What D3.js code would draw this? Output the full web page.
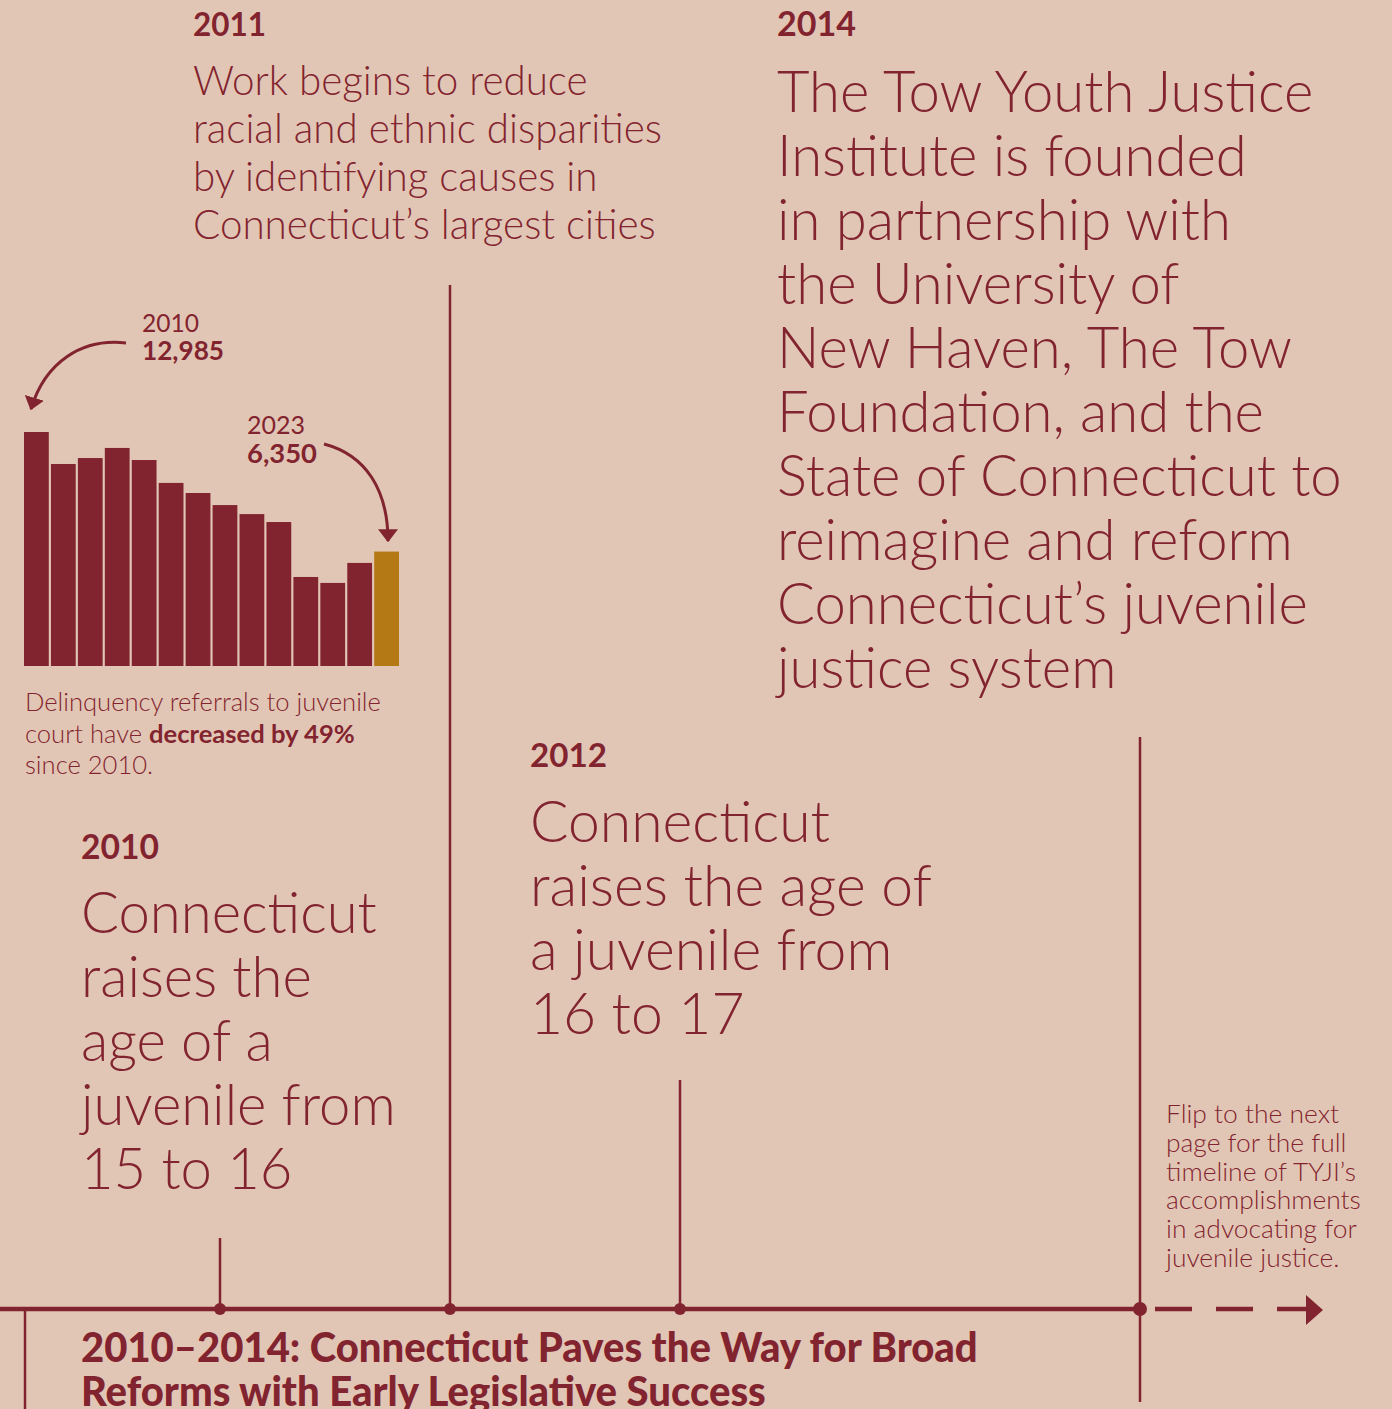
<!DOCTYPE html>
<html>
<head>
<meta charset="utf-8">
<script src="https://cdn.jsdelivr.net/npm/d3@7"></script>
<style>
  html, body { margin: 0; padding: 0; background: #e2c6b5; }
  svg { display: block; }
</style>
</head>
<body>
<script>
// referrals to juvenile court, 2010-2023
var years = [2010, 2011, 2012, 2013, 2014, 2015, 2016, 2017, 2018, 2019, 2020, 2021, 2022, 2023];
var referrals = [12985, 11210, 11540, 12100, 11430, 10160, 9600, 8930, 8430, 7990, 4940, 4610, 5720, 6350];

// timeline events
var eventYears = [2010, 2011, 2012, 2014];
var eventTexts = [
  ["Connecticut", "raises the", "age of a", "juvenile from", "15 to 16"],
  ["Work begins to reduce", "racial and ethnic disparities", "by identifying causes in", "Connecticut\u2019s largest cities"],
  ["Connecticut", "raises the age of", "a juvenile from", "16 to 17"],
  ["The Tow Youth Justice", "Institute is founded", "in partnership with", "the University of",
   "New Haven, The Tow", "Foundation, and the", "State of Connecticut to", "reimagine and reform",
   "Connecticut\u2019s juvenile", "justice system"]
];
var titleLines = ["2010\u20132014: Connecticut Paves the Way for Broad", "Reforms with Early Legislative Success"];
var flipLines = ["Flip to the next", "page for the full", "timeline of TYJI\u2019s", "accomplishments", "in advocating for", "juvenile justice."];

var RED = "#82242f", GOLD = "#b47814", BG = "#e2c6b5";
var LIGHT = "Lato, 'Noto Sans', sans-serif";
var BOLD = "Lato, 'Noto Sans', sans-serif";

var W = 1392, H = 1409;
var svg = d3.select("body").append("svg").attr("width", W).attr("height", H);
svg.append("rect").attr("width", W).attr("height", H).attr("fill", BG);

// text block; font size fitted so the widest line has the given width,
// or (squeeze) fixed font size and squeezed horizontally
function block(lines, o) {
  var t = svg.append("text")
    .attr("fill", RED)
    .attr("font-family", o.family)
    .attr("font-weight", o.weight)
    .attr("font-size", o.squeeze ? o.size : 100);
  lines.forEach(function(l, i) {
    var ts = t.append("tspan").attr("x", o.x).attr("y", o.y + i * o.lh);
    if (typeof l === "string") ts.text(l);
    else l.forEach(function(p) {
      ts.append("tspan").attr("font-weight", p.b ? 700 : o.weight).text(p.t);
    });
  });
  var w = t.node().getBBox().width;
  if (o.squeeze) {
    var s = o.width / w;
    t.attr("transform", "translate(" + o.x + ",0) scale(" + s + ",1) translate(" + (-o.x) + ",0)");
  } else {
    t.attr("font-size", 100 * o.width / w);
  }
  return t;
}

// timeline
var tx = d3.scaleLinear().domain([2010, 2014]).range([220, 1140]);
var lineY = 1309;
var stemTop = {2010: 1238, 2011: 285, 2012: 1080, 2014: 737};

svg.append("line").attr("x1", 0).attr("x2", tx(2014)).attr("y1", lineY).attr("y2", lineY)
  .attr("stroke", RED).attr("stroke-width", 4.5);
svg.append("line").attr("x1", 1155).attr("x2", 1308).attr("y1", lineY).attr("y2", lineY)
  .attr("stroke", RED).attr("stroke-width", 4.5).attr("stroke-dasharray", "37,24");
svg.append("path").attr("d", "M1306,1295 L1323,1310 L1306,1325 Z").attr("fill", RED);
svg.append("line").attr("x1", 25).attr("x2", 25).attr("y1", lineY).attr("y2", H)
  .attr("stroke", RED).attr("stroke-width", 2.5);

svg.selectAll(".stem").data(eventYears).join("line")
  .attr("x1", function(d) { return tx(d); }).attr("x2", function(d) { return tx(d); })
  .attr("y1", function(d) { return stemTop[d]; })
  .attr("y2", function(d) { return d === 2014 ? 1402 : lineY; })
  .attr("stroke", RED).attr("stroke-width", 2.5);
svg.selectAll(".dot").data(eventYears).join("circle")
  .attr("cx", function(d) { return tx(d); }).attr("cy", lineY)
  .attr("r", function(d) { return d === 2014 ? 7 : 6; }).attr("fill", RED);

// event labels and texts
var evLayout = [
  {x: 81, yl: 859, y: 933, lh: 64, lw: 78, w: 317},
  {x: 193, yl: 36, y: 95, lh: 48, lw: 73, w: 469},
  {x: 530, yl: 767, y: 842, lh: 64, lw: 77, w: 402},
  {x: 777, yl: 36, y: 112, lh: 64, lw: 79, w: 567}
];
eventYears.forEach(function(yr, i) {
  var L = evLayout[i];
  block([String(yr)], {x: L.x, y: L.yl, lh: 0, family: BOLD, weight: 700, width: L.lw});
  block(eventTexts[i], {x: L.x, y: L.y, lh: L.lh, family: LIGHT, weight: 300, width: L.w});
});

// bar chart
var x = d3.scaleBand().domain(years).range([24, 399]).paddingInner(0.08).paddingOuter(0);
var y = d3.scaleLinear().domain([0, d3.max(referrals)]).range([666, 432]);
svg.append("g").selectAll("rect").data(years).join("rect")
  .attr("x", function(d) { return x(d); })
  .attr("y", function(d, i) { return y(referrals[i]); })
  .attr("width", x.bandwidth())
  .attr("height", function(d, i) { return y(0) - y(referrals[i]); })
  .attr("fill", function(d) { return d === 2023 ? GOLD : RED; });

var fmt = d3.format(",");
block([String(years[0])], {x: 142, y: 332, lh: 0, family: LIGHT, weight: 400, width: 57});
block([fmt(referrals[0])], {x: 142, y: 360, lh: 0, family: BOLD, weight: 700, width: 82});
block([String(years[13])], {x: 247, y: 434, lh: 0, family: LIGHT, weight: 400, width: 58});
block([fmt(referrals[13])], {x: 247, y: 463, lh: 0, family: BOLD, weight: 700, width: 70});

var defs = svg.append("defs");
defs.append("marker").attr("id", "head").attr("viewBox", "0 0 10 10")
  .attr("refX", 9).attr("refY", 5).attr("markerUnits", "userSpaceOnUse")
  .attr("markerWidth", 13).attr("markerHeight", 20).attr("orient", "auto")
  .attr("preserveAspectRatio", "none")
  .append("path").attr("d", "M0,0 L10,5 L0,10 Z").attr("fill", RED);

svg.append("path").attr("d", "M126,343 C82,338 45,362 31,409")
  .attr("fill", "none").attr("stroke", RED).attr("stroke-width", 3).attr("marker-end", "url(#head)");
svg.append("path").attr("d", "M324,444 C366,455 388,490 388,541")
  .attr("fill", "none").attr("stroke", RED).attr("stroke-width", 3).attr("marker-end", "url(#head)");

block([
  "Delinquency referrals to juvenile",
  [{t: "court have "}, {t: "decreased by 49%", b: true}],
  "since 2010."
], {x: 25, y: 711, lh: 31.5, family: LIGHT, weight: 300, width: 356});

// flip note
block(flipLines, {x: 1166, y: 1123, lh: 28.8, family: LIGHT, weight: 300, width: 196});

// section title
block(titleLines, {x: 81, y: 1362, lh: 44, family: BOLD, weight: 900, size: 41, squeeze: true, width: 897});
</script>
</body>
</html>
